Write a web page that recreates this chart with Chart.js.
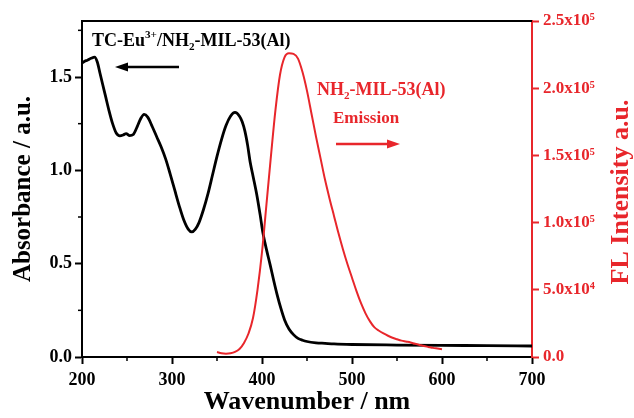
<!DOCTYPE html>
<html lang="en">
<head>
    <meta charset="UTF-8">
    <title>Absorbance / Emission</title>
    <script src="https://cdn.jsdelivr.net/npm/chart.js"></script>
    <style>
        html, body { margin: 0; padding: 0; background: #fff; }
        #wrap { width: 634px; height: 418px; }
    </style>
</head>
<body>
    <div id="wrap"><canvas id="spectra" width="634" height="418"></canvas></div>

    <script>
        // UV-vis absorbance of TC-Eu3+/NH2-MIL-53(Al)
        const absWavelength = [200, 203, 206, 210, 214, 217, 220, 223, 226, 230, 234, 238, 242, 246, 249, 253, 257, 261, 265, 269,
            273, 278, 283, 288, 293, 298, 303, 308, 313, 318, 322, 326, 330, 335, 340, 345, 350, 355, 360, 365,
            370, 375, 378, 381, 384, 387, 390, 394, 398, 401, 405, 409, 413, 417, 421, 425, 430, 435, 440, 445,
            450, 460, 470, 480, 500, 550, 600, 650, 700];
        const absValues = [1.575, 1.585, 1.59, 1.60, 1.607, 1.58, 1.52, 1.46, 1.40, 1.32, 1.25, 1.20, 1.185, 1.19, 1.197, 1.186, 1.192, 1.23, 1.275, 1.30,
            1.285, 1.235, 1.18, 1.125, 1.06, 0.98, 0.895, 0.81, 0.735, 0.685, 0.67, 0.685, 0.72, 0.79, 0.875, 0.975, 1.075, 1.165, 1.24, 1.29,
            1.31, 1.29, 1.26, 1.21, 1.135, 1.04, 0.97, 0.875, 0.76, 0.665, 0.575, 0.495, 0.41, 0.33, 0.26, 0.2, 0.15, 0.12, 0.1, 0.09,
            0.083, 0.076, 0.073, 0.07, 0.067, 0.064, 0.062, 0.061, 0.059];

        // FL emission of NH2-MIL-53(Al)
        const emWavelength = [350, 355, 360, 365, 370, 375, 380, 385, 390, 395, 400, 405, 410, 415, 420, 425, 430, 435, 440, 445,
            450, 455, 460, 465, 470, 475, 480, 485, 490, 495, 500, 505, 510, 515, 520, 525, 530, 535, 540, 545,
            550, 555, 560, 565, 570, 575, 580, 585, 590, 595, 600];
        const emValues = [3700, 2800, 2500, 2800, 3800, 6000, 10500, 17500, 29000, 50000, 78000, 114000, 150000, 184000, 210000, 223000, 226000, 225500, 222000, 212000,
            198000, 181000, 164000, 148000, 132000, 118000, 105000, 92000, 80000, 69000, 59000, 49000, 40000, 32500, 26500, 22000, 19500, 17500, 15800, 14300,
            13200, 12200, 11500, 10800, 9800, 9000, 8200, 7500, 6800, 6300, 5800];

        const xMinorTicks = [250, 350, 450, 550, 650];
        const yMinorTicks = [0.25, 0.75, 1.25, 1.75];

        const RED = '#e8262b';
        const FONT = 'Liberation Serif';
        Chart.defaults.font.family = FONT;
        Chart.defaults.font.weight = 'bold';

        const supDigits = { '0': '⁰', '1': '¹', '2': '²', '3': '³', '4': '⁴', '5': '⁵', '6': '⁶', '7': '⁷', '8': '⁸', '9': '⁹' };

        function sciLabel(v) {
            if (v === 0) return '0.0';
            const exp = Math.floor(Math.log10(v) + 1e-9);
            const mant = v / Math.pow(10, exp);
            return mant.toFixed(1) + 'x10' + String(exp).split('').map(d => supDigits[d]).join('');
        }

        // text with sub/superscript pieces
        function drawRich(ctx, parts, x, y, size, color) {
            ctx.fillStyle = color;
            ctx.textBaseline = 'alphabetic';
            ctx.textAlign = 'left';
            parts.forEach(p => {
                let fs = size, dy = 0;
                if (p.sup) { fs = size * 0.62; dy = -size * 0.42; }
                if (p.sub) { fs = size * 0.62; dy = size * 0.22; }
                ctx.font = 'bold ' + fs + 'px "' + FONT + '"';
                ctx.fillText(p.t, x, y + dy);
                x += ctx.measureText(p.t).width;
            });
        }

        function arrow(ctx, x1, x2, y, color) {
            const dir = Math.sign(x2 - x1);
            ctx.save();
            ctx.strokeStyle = color;
            ctx.fillStyle = color;
            ctx.lineWidth = 2.5;
            ctx.beginPath();
            ctx.moveTo(x1, y);
            ctx.lineTo(x2 - dir * 10, y);
            ctx.stroke();
            ctx.beginPath();
            ctx.moveTo(x2, y);
            ctx.lineTo(x2 - dir * 13, y - 4.5);
            ctx.lineTo(x2 - dir * 13, y + 4.5);
            ctx.closePath();
            ctx.fill();
            ctx.restore();
        }

        const framePlugin = {
            id: 'frame',
            afterDraw(chart) {
                const { ctx, chartArea: a, scales } = chart;
                ctx.save();
                // top border
                ctx.strokeStyle = '#000';
                ctx.lineWidth = 2;
                ctx.beginPath();
                ctx.moveTo(a.left - 1, a.top);
                ctx.lineTo(a.right, a.top);
                ctx.stroke();

                // minor ticks
                ctx.lineWidth = 1.5;
                xMinorTicks.forEach(v => {
                    const px = scales.x.getPixelForValue(v);
                    ctx.beginPath();
                    ctx.moveTo(px, a.bottom);
                    ctx.lineTo(px, a.bottom + 4);
                    ctx.stroke();
                });
                yMinorTicks.forEach(v => {
                    const py = scales.y.getPixelForValue(v);
                    ctx.beginPath();
                    ctx.moveTo(a.left, py);
                    ctx.lineTo(a.left - 4, py);
                    ctx.stroke();
                });

                // right axis title, reading upwards
                ctx.translate(621, 192);
                ctx.rotate(-Math.PI / 2);
                ctx.font = 'bold 26px "' + FONT + '"';
                ctx.fillStyle = RED;
                ctx.textAlign = 'center';
                ctx.textBaseline = 'middle';
                ctx.fillText('FL Intensity a.u.', 0, 0);
                ctx.restore();

                // annotations
                ctx.save();
                drawRich(ctx, [{ t: 'TC-Eu' }, { t: '3+', sup: true }, { t: '/NH' }, { t: '2', sub: true }, { t: '-MIL-53(Al)' }], 92, 46, 18, '#000');
                arrow(ctx, 179, 115, 67, '#000');
                drawRich(ctx, [{ t: 'NH' }, { t: '2', sub: true }, { t: '-MIL-53(Al)' }], 317, 95, 18, RED);
                drawRich(ctx, [{ t: 'Emission' }], 333, 123, 17, RED);
                arrow(ctx, 336, 400, 144, RED);
                ctx.restore();
            }
        };

        const config = {
            type: 'line',
            data: {
                datasets: [{
                    label: 'NH2-MIL-53(Al) emission',
                    data: emWavelength.map((w, i) => ({ x: w, y: emValues[i] })),
                    yAxisID: 'y2',
                    borderColor: RED,
                    borderWidth: 2,
                    pointRadius: 0,
                    cubicInterpolationMode: 'monotone'
                }, {
                    label: 'TC-Eu3+/NH2-MIL-53(Al) absorbance',
                    data: absWavelength.map((w, i) => ({ x: w, y: absValues[i] })),
                    yAxisID: 'y',
                    borderColor: '#000',
                    borderWidth: 2.8,
                    pointRadius: 0,
                    cubicInterpolationMode: 'monotone'
                }]
            },
            options: {
                responsive: false,
                animation: false,
                devicePixelRatio: 1,
                layout: { padding: { top: 21, left: 0, right: 0, bottom: 0 } },
                plugins: {
                    legend: { display: false },
                    tooltip: { enabled: false }
                },
                scales: {
                    x: {
                        type: 'linear',
                        min: 200,
                        max: 700,
                        afterFit(s) { s.height = 61; },
                        ticks: { stepSize: 100, color: '#000', padding: 6, font: { size: 18, weight: 'bold' } },
                        grid: { drawOnChartArea: false, tickLength: 7, tickWidth: 2, tickColor: '#000' },
                        border: { color: '#000', width: 2 },
                        title: {
                            display: true,
                            text: 'Wavenumber / nm',
                            color: '#000',
                            font: { size: 26, weight: 'bold' },
                            padding: { top: 0, bottom: 0 }
                        }
                    },
                    y: {
                        position: 'left',
                        min: 0,
                        max: 1.8,
                        afterFit(s) { s.width = 82; },
                        ticks: {
                            stepSize: 0.5,
                            includeBounds: false,
                            color: '#000',
                            padding: 3,
                            font: { size: 18, weight: 'bold' },
                            callback: v => v.toFixed(1)
                        },
                        grid: { drawOnChartArea: false, tickLength: 7, tickWidth: 2, tickColor: '#000' },
                        border: { color: '#000', width: 2 },
                        title: {
                            display: true,
                            text: 'Absorbance / a.u.',
                            color: '#000',
                            font: { size: 25, weight: 'bold' },
                            padding: { top: 9, bottom: 0 }
                        }
                    },
                    y2: {
                        position: 'right',
                        min: 0,
                        max: 250000,
                        afterFit(s) { s.width = 102; },
                        ticks: {
                            stepSize: 50000,
                            color: RED,
                            padding: 4,
                            font: { size: 17, weight: 'bold' },
                            callback: v => sciLabel(v)
                        },
                        grid: { drawOnChartArea: false, tickLength: 7, tickWidth: 2, tickColor: RED },
                        border: { color: RED, width: 2 }
                    }
                }
            },
            plugins: [framePlugin]
        };

        new Chart(document.getElementById('spectra').getContext('2d'), config);
    </script>
</body>
</html>
